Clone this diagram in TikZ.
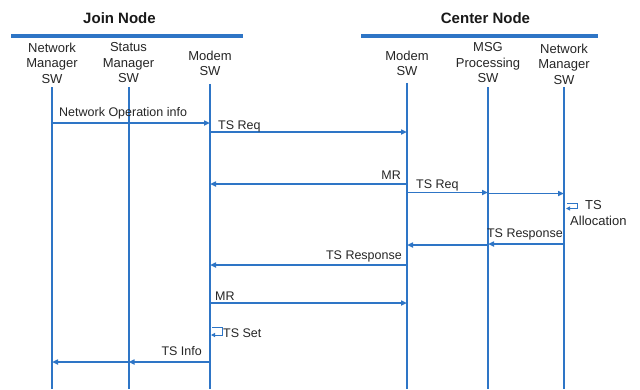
\documentclass[tikz,border=0pt]{standalone}
\usepackage{fontspec}
\setmainfont{Liberation Sans}
\usetikzlibrary{arrows.meta}
\definecolor{seqblue}{RGB}{46,117,198}
\begin{document}
\begin{tikzpicture}[x=1pt,y=-1pt,
  head/.style={align=center, inner sep=0pt, anchor=north, text=black!85, font=\fontsize{13}{15.5}\selectfont},
  title/.style={font=\bfseries\fontsize{15}{18}\selectfont, anchor=base, inner sep=0pt, text=black!90},
  life/.style={draw=seqblue, line width=2pt},
  bar/.style={draw=seqblue, line width=3.5pt},
  msg/.style={draw=seqblue, line width=1.5pt, -{Triangle[length=6pt,width=5pt]}},
  selfmsg/.style={draw=seqblue, line width=1pt, -{Triangle[length=4pt,width=4pt]}},
  lbl/.style={font=\fontsize{12.5}{14}\selectfont, inner sep=0pt, text=black!85}]
\useasboundingbox (0,0) rectangle (640,389);
\fill[white] (0,0) rectangle (640,389);
% titles and bars
\node[title] (tj) at (119.5,23) {Join Node};
\node[title] (tc) at (485.5,23) {Center Node};
\coordinate (bj1) at (11,36); \coordinate (bj2) at (243,36);
\coordinate (bc1) at (361,36); \coordinate (bc2) at (598,36);
\draw[bar] (bj1) -- (bj2);
\draw[bar] (bc1) -- (bc2);
% lifeline heads
\node[head] (nmj) at (52,42.5) {Network\\Manager\\SW};
\node[head] (smj) at (128.5,42.5) {Status\\Manager\\SW};
\node[head] (mdj) at (210,50.5) {Modem\\SW};
\node[head] (mdc) at (407,50.5) {Modem\\SW};
\node[head] (msg) at (488,42.5) {MSG\\Processing\\SW};
\node[head] (nmc) at (564,43.5) {Network\\Manager\\SW};
% lifelines
\draw[life] ([yshift=-4pt]nmj.south) -- (nmj |- 0,389);
\draw[life] ([yshift=-4pt]smj.south) -- (smj |- 0,389);
\draw[life] ([yshift=-8pt]mdj.south) -- (mdj |- 0,389);
\draw[life] ([yshift=-7pt]mdc.south) -- (mdc |- 0,389);
\draw[life] ([yshift=-4pt]msg.south) -- (msg |- 0,389);
\draw[life] ([yshift=-3pt]nmc.south) -- (nmc |- 0,389);
% messages
\draw[msg] (nmj |- 0,123) -- (mdj |- 0,123);
\node[lbl, anchor=base west] (l1) at (59,116) {Network Operation info};
\draw[msg] (mdj |- 0,132) -- (mdc |- 0,132);
\node[lbl, anchor=base west] (l2) at (218,129) {TS Req};
\draw[msg] (mdc |- 0,184) -- (mdj |- 0,184);
\node[lbl, anchor=base east] (l3) at (401,179) {MR};
\draw[msg] (mdc |- 0,192.5) -- (msg |- 0,192.5);
\draw[msg] (msg |- 0,193.5) -- (nmc |- 0,193.5);
\node[lbl, anchor=base west] (l4) at (416,188) {TS Req};
\draw[selfmsg] (nmc |- 0,203) ++(3,0) -- ++(10,0) -- ++(0,5.5) -- ++(-11,0);
\node[lbl, anchor=base west, font=\fontsize{13}{14}\selectfont] (l5) at (585,209.5) {TS};
\node[lbl, anchor=base west, font=\fontsize{13}{14}\selectfont] (l6) at (570,225) {Allocation};
\draw[msg] (nmc |- 0,244) -- (msg |- 0,244);
\draw[msg] (msg |- 0,245) -- (mdc |- 0,245);
\node[lbl, anchor=base east] (l7) at (563,237) {TS Response};
\draw[msg] (mdc |- 0,265) -- (mdj |- 0,265);
\node[lbl, anchor=base east] (l8) at (402,259) {TS Response};
\draw[msg] (mdj |- 0,303) -- (mdc |- 0,303);
\node[lbl, anchor=base west] (l9) at (215,300) {MR};
\draw[selfmsg] (mdj |- 0,327) ++(2,0) -- ++(10,0) -- ++(0,8) -- ++(-11,0);
\node[lbl, anchor=base west] (l10) at (223,337) {TS Set};
\draw[msg] (mdj |- 0,362) -- (smj |- 0,362);
\draw[msg] (smj |- 0,362) -- (nmj |- 0,362);
\node[lbl, anchor=base east] (l11) at (202,355) {TS Info};
\end{tikzpicture}
\end{document}
